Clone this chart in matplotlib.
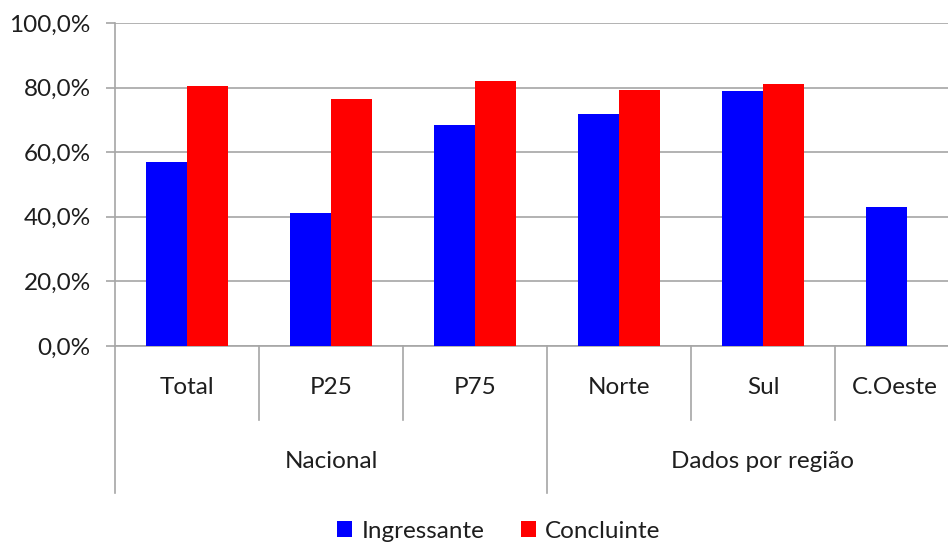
import matplotlib
matplotlib.use("Agg")
import matplotlib.pyplot as plt
import matplotlib.transforms as mtransforms
from matplotlib.patches import Patch

# data
categories = ["Total", "P25", "P75", "Norte", "Sul", "C.Oeste"]
groups = ["Nacional", "Dados por região"]
group_sizes = [3, 3]
ingressante = [57.1, 41.2, 68.4, 71.8, 78.9, 43.1]
concluinte = [80.5, 76.5, 82.0, 79.3, 81.1, None]
y_ticks = [0, 20, 40, 60, 80, 100]

BLUE = "#0000ff"
RED = "#ff0000"
GRAY = "#a6a6a6"
TXT = "#1e1e1e"
FONT = "Lato"
FS = 17.5

plt.rcParams["font.family"] = [FONT, "DejaVu Sans"]

W, H = 948, 542
fig = plt.figure(figsize=(W / 100, H / 100), dpi=100)

# axes in pixel terms: left 115, zero line at 346, top at 23, 144 px per category
left, zero_y, top_y, cat_w = 115, 346, 23, 144
ax = fig.add_axes([left / W, 1 - zero_y / H, cat_w * len(categories) / W, (zero_y - top_y) / H])

bar_w = 0.285
xs = [i + 0.5 for i in range(len(categories))]
ax.bar([x - bar_w / 2 for x in xs], ingressante, width=bar_w, color=BLUE, zorder=3)
red_x = [x + bar_w / 2 for x, v in zip(xs, concluinte) if v is not None]
red_v = [v for v in concluinte if v is not None]
ax.bar(red_x, red_v, width=bar_w, color=RED, zorder=3)

ax.set_xlim(0, len(categories))
ax.set_ylim(0, 100)
ax.set_yticks(y_ticks)
ax.set_yticklabels([f"{t:.1f}%".replace(".", ",") for t in y_ticks], fontsize=FS, color=TXT)
ax.tick_params(axis="y", length=6.5, width=1.2, color=GRAY, pad=11)
ax.set_xticks([])
ax.grid(axis="y", color=GRAY, linewidth=1.2, zorder=0)

for side in ["top", "right"]:
    ax.spines[side].set_visible(False)
ax.spines["left"].set_color(GRAY)
ax.spines["left"].set_linewidth(1.2)
ax.spines["bottom"].set_color(GRAY)
ax.spines["bottom"].set_linewidth(1.2)

# hierarchical category axis under the plot
ax_h = zero_y - top_y
short_y = -(420 - zero_y) / ax_h
long_y = -(493 - zero_y) / ax_h
tr = ax.get_xaxis_transform()

bounds = [0]
for n in group_sizes:
    bounds.append(bounds[-1] + n)
for i in range(len(categories) + 1):
    y_end = long_y if i in bounds else short_y
    ax.plot([i, i], [0, y_end], transform=tr, color=GRAY, linewidth=1.2, clip_on=False)

cat_texts = []
for x, name in zip(xs, categories):
    cat_texts.append(ax.text(x, -(388 - zero_y) / ax_h, name, transform=tr, ha="center",
                             va="center", fontsize=FS, color=TXT))
for g, name in enumerate(groups):
    mid = (bounds[g] + bounds[g + 1]) / 2
    ax.text(mid, -(461 - zero_y) / ax_h, name, transform=tr, ha="center", va="center",
            fontsize=FS, color=TXT)

handles = [Patch(facecolor=BLUE, label="Ingressante"), Patch(facecolor=RED, label="Concluinte")]
leg = fig.legend(handles=handles, loc="center", bbox_to_anchor=(499 / W, 1 - 531 / H), ncol=2,
                 frameon=False, fontsize=FS, handlelength=0.6, handleheight=0.6,
                 handletextpad=0.4, columnspacing=1.5)
for t in leg.get_texts():
    t.set_color(TXT)

# the axes run past the right edge; nudge a label back inside like the original does
renderer = fig.canvas.get_renderer()
for t in cat_texts:
    bb = t.get_window_extent(renderer)
    overflow = bb.x1 - (W - 10)
    if overflow > 0:
        t.set_transform(tr + mtransforms.Affine2D().translate(-overflow, 0))

fig.savefig("out.png", dpi=100)
